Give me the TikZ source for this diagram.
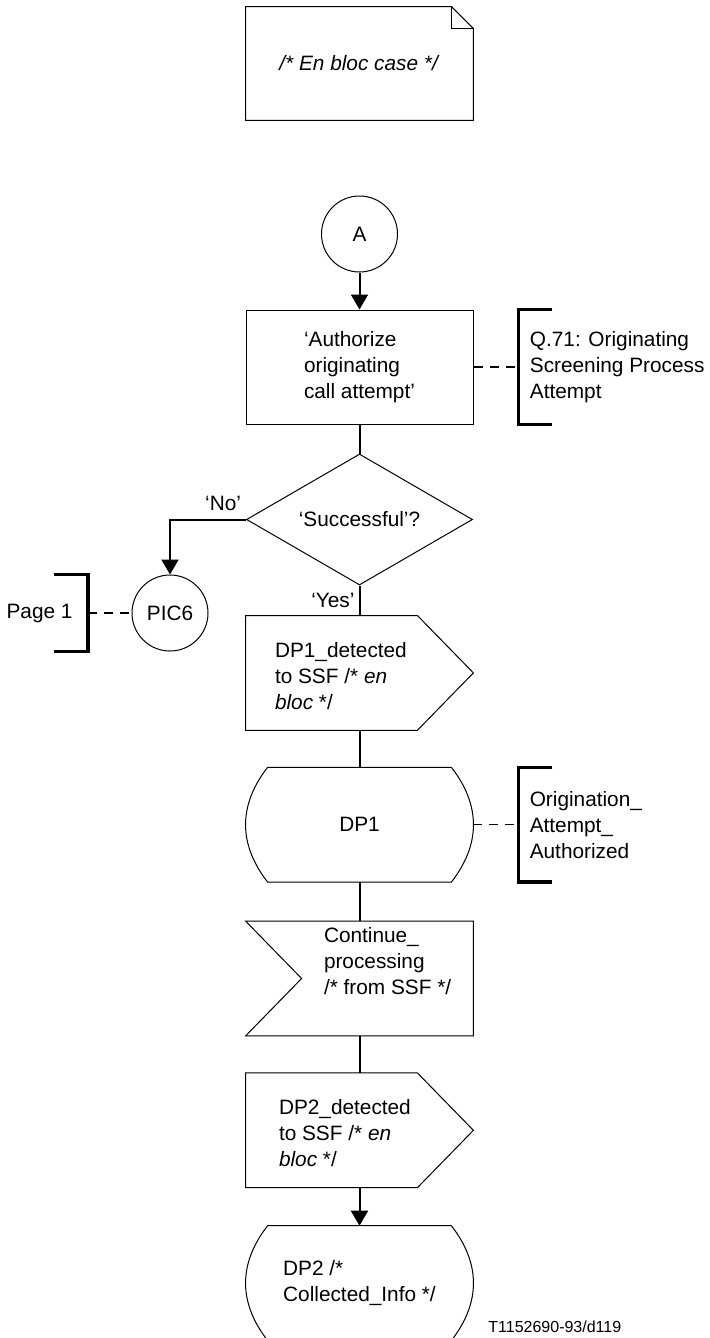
\documentclass[tikz,border=0pt]{standalone}
\usepackage{fontspec}
\setmainfont{Liberation Sans}
\usetikzlibrary{arrows.meta,positioning,shapes.geometric}

\begin{document}
\begin{tikzpicture}[x=0.5pt,y=-0.5pt,font=\fontsize{10.4}{13}\selectfont,
        >={Triangle[length=7.5pt,width=8.5pt]},
        outline/.style={line width=0.5pt},
        box/.style={draw,outline,minimum width=113.5pt,minimum height=57pt,inner sep=0pt,align=left},
        slot/.style={minimum width=113.5pt,minimum height=57pt,inner sep=0pt,align=left},
        conn/.style={circle,draw,outline,minimum size=38pt,inner sep=0pt},
        flow/.style={line width=1pt},
        link/.style={line width=0.65pt,dash pattern=on 4.5pt off 3.5pt},
        brk/.style={line width=1.8pt},
        brkslot/.style={minimum width=16.5pt,minimum height=57pt,inner sep=0pt},
        txt/.style={inner sep=0pt,align=left}]
        \useasboundingbox (0,0) rectangle (710,1338);
        % comment note
        \node[slot,minimum height=56.5pt,align=center] (note) at (359.5,63.5) {\textit{/* En bloc case */}};
        \draw[outline] (note.north west) -- ([xshift=-11pt]note.north east) -- ([yshift=-11pt]note.north east)
              -- (note.south east) -- (note.south west) -- cycle;
        \draw[outline] ([xshift=-11pt]note.north east) |- ([yshift=-11pt]note.north east);
        % main column
        \node[conn] (a) at (359.5,234) {A};
        \node[box,below=18.5pt of a] (auth) {`Authorize\\originating\\call attempt'};
        \node[diamond,draw,outline,aspect=1.7,minimum width=113pt,minimum height=65.5pt,inner sep=0pt,
              below=14.5pt of auth] (succ) {`Successful'?};
        \node[slot,below=15pt of succ] (dponesig) {};
        \node[slot,below=18.5pt of dponesig,align=center] (dpone) {DP1};
        \node[slot,below=19.5pt of dpone] (cont) {};
        \node[slot,below=18.5pt of cont] (dptwosig) {};
        \node[slot,below=19pt of dptwosig] (dptwo) {DP2 /*\\Collected\_Info */};
        \node[txt,anchor=west] (dponetxt) at ([xshift=14.5pt,yshift=-1.5pt]dponesig.west)
              {DP1\_detected\\to SSF /* \textit{en}\\\textit{bloc} */};
        \node[txt,anchor=west] (conttxt) at ([xshift=39pt,yshift=8.5pt]cont.west)
              {Continue\_\\processing\\/* from SSF */};
        \node[txt,anchor=west] (dptwotxt) at ([xshift=16.5pt,yshift=-1.5pt]dptwosig.west)
              {DP2\_detected\\to SSF /* \textit{en}\\\textit{bloc} */};
        % symbol outlines
        \foreach \n in {dponesig,dptwosig}
          \draw[outline] (\n.north west) -- ([xshift=-28pt]\n.north east) -- (\n.east)
                -- ([xshift=-28pt]\n.south east) -- (\n.south west) -- cycle;
        \draw[outline] (cont.north west) -- (cont.north east) -- (cont.south east) -- (cont.south west)
              -- ([xshift=28pt]cont.west) -- cycle;
        \foreach \n in {dpone,dptwo}
          \draw[outline] ([xshift=11pt]\n.north west) -- ([xshift=-11pt]\n.north east)
                .. controls ([xshift=3.7pt,yshift=-19pt]\n.north east) and ([xshift=3.7pt,yshift=19pt]\n.south east)
                .. ([xshift=-11pt]\n.south east) -- ([xshift=11pt]\n.south west)
                .. controls ([xshift=-3.7pt,yshift=19pt]\n.south west) and ([xshift=-3.7pt,yshift=-19pt]\n.north west)
                .. cycle;
        % exit connector and references
        \node[conn] (pic) at (170,613) {PIC6};
        \node[brkslot,minimum height=38pt] (pbr) at (71,613) {};
        \node[txt,anchor=east] (ptxt) at ([xshift=-7.5pt]pbr.east) {Page 1};
        \node[brkslot,right=22.5pt of auth] (qbr) {};
        \node[txt,anchor=west] (qtxt) at ([xshift=5.5pt]qbr.west) {Q.71: Originating\\Screening Process\\Attempt};
        \node[brkslot,right=22.5pt of dpone] (obr) {};
        \node[txt,anchor=west] (otxt) at ([xshift=5.5pt]obr.west) {Origination\_\\Attempt\_\\Authorized};
        \draw[brk] (qbr.north east) -| (qbr.south west) -- (qbr.south east);
        \draw[brk] (obr.north east) -| (obr.south west) -- (obr.south east);
        \draw[brk] (pbr.north west) -| (pbr.south east) -- (pbr.south west);
        \draw[link] (auth.east) -- (qbr.west);
        \draw[link] (dpone.east) -- (obr.west);
        \draw[link] (pbr.east) -- (pic.west);
        % flow lines
        \draw[flow,->] (a) -- (auth);
        \draw[flow] (auth) -- (succ);
        \draw[flow,->] (succ.west) -| (pic.north) node[pos=0,anchor=south east,inner sep=2pt,yshift=2pt] {`No'};
        \draw[flow] (succ) -- node[left,inner sep=2pt] {`Yes'} (dponesig);
        \draw[flow] (dponesig) -- (dpone);
        \draw[flow] (dpone) -- (cont);
        \draw[flow] (cont) -- (dptwosig);
        \draw[flow,->] (dptwosig) -- (dptwo);
        \node[txt,anchor=west,font=\fontsize{8}{10}\selectfont] (figid) at (488,1327) {T1152690-93/d119};
      \end{tikzpicture}
\end{document}
